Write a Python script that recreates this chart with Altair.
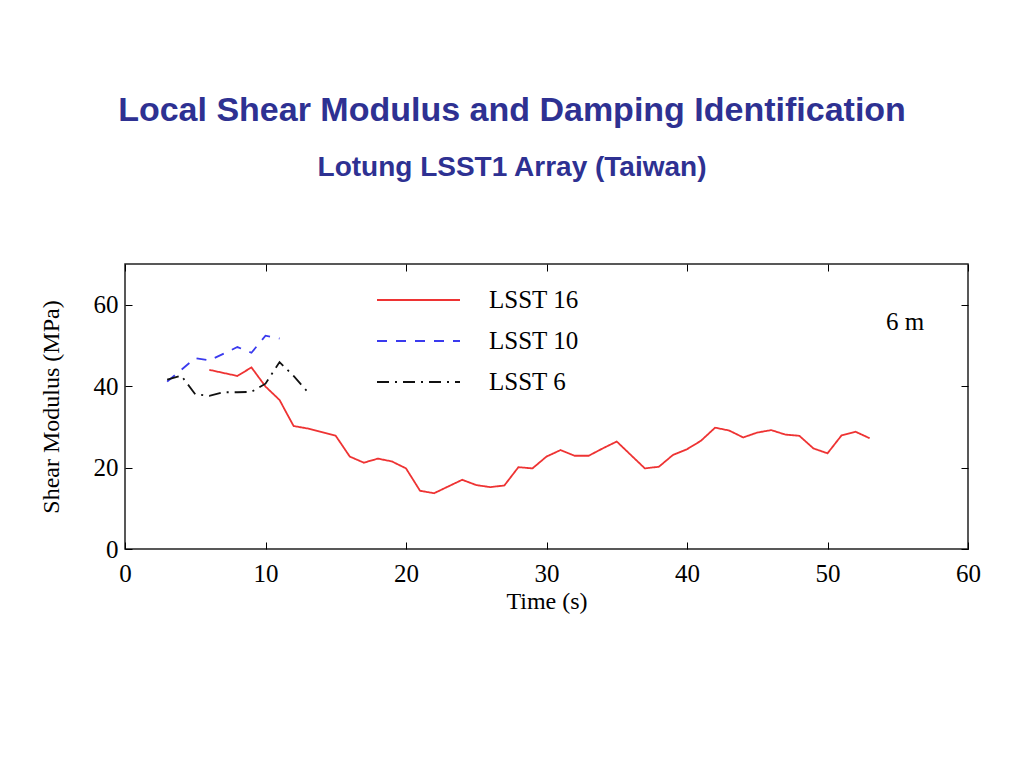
import altair as alt
import pandas as pd

# ---- data ----
t16 = [6, 8, 9, 10, 11, 12, 13, 15, 16, 17, 18, 19, 20, 21, 22, 24, 25, 26, 27, 28, 29, 30,
       31, 32, 33, 34, 35, 37, 38, 39, 40, 41, 42, 43, 44, 45, 46, 47, 48, 49, 50, 51, 52, 53]
g16 = [44.0, 42.5, 44.6, 39.9, 36.6, 30.2, 29.6, 27.8, 22.7, 21.2, 22.2, 21.5, 19.8, 14.3, 13.7,
       17.0, 15.7, 15.2, 15.6, 20.1, 19.8, 22.7, 24.3, 22.9, 22.9, 24.7, 26.4, 19.8, 20.2, 23.1,
       24.5, 26.6, 29.8, 29.1, 27.4, 28.6, 29.2, 28.1, 27.8, 24.7, 23.5, 27.9, 28.8, 27.2]
t10 = [3, 5, 6, 8, 9, 10, 11]
g10 = [41.1, 46.9, 46.3, 49.6, 48.2, 52.4, 51.7]
t6 = [3, 4, 5, 6, 7, 8, 9, 10, 11, 12, 13]
g6 = [41.6, 42.6, 38.0, 37.6, 38.5, 38.5, 38.6, 40.6, 45.9, 42.5, 38.6]

series_names = ["LSST 16", "LSST 10", "LSST 6"]
series_colors = ["#ee3333", "#3a3aee", "#111111"]
series_dash = [[1, 0], [10, 9], [12, 6, 2, 6]]

x_ticks = [0, 10, 20, 30, 40, 50, 60]
y_ticks = [0, 20, 40, 60]

title_text = "Local Shear Modulus and Damping Identification"
subtitle_text = "Lotung LSST1 Array (Taiwan)"
depth_label = "6 m"

rows = []
for name, ts, gs in [(series_names[0], t16, g16), (series_names[1], t10, g10), (series_names[2], t6, g6)]:
    for t, g in zip(ts, gs):
        rows.append({"series": name, "time": t, "G": g})
df = pd.DataFrame(rows)

W, H = 843, 285
serif = "Liberation Serif"
sans = "Liberation Sans"
title_color = "#2e3192"

xs = alt.Scale(domain=[0, 60], nice=False)
ys = alt.Scale(domain=[0, 70], nice=False)

lines = alt.Chart(df).mark_line(strokeWidth=1.8).encode(
    x=alt.X("time:Q", scale=xs, title="Time (s)",
            axis=alt.Axis(values=x_ticks, offset=-7, tickSize=7, domain=False, grid=False,
                          labelPadding=12, labelFont=serif, labelFontSize=25, labelColor="black",
                          titleFont=serif, titleFontSize=24, titleFontWeight="normal",
                          titleColor="black", titlePadding=3, tickColor="black", labelFlush=False)),
    y=alt.Y("G:Q", scale=ys, title="Shear Modulus (MPa)",
            axis=alt.Axis(values=y_ticks, offset=-7, tickSize=7, domain=False, grid=False,
                          labelPadding=7, labelFont=serif, labelFontSize=25, labelColor="black",
                          titleFont=serif, titleFontSize=24, titleFontWeight="normal",
                          titleColor="black", titlePadding=30, tickColor="black", labelFlush=False)),
    color=alt.Color("series:N", scale=alt.Scale(domain=series_names, range=series_colors), legend=None),
    strokeDash=alt.StrokeDash("series:N", scale=alt.Scale(domain=series_names, range=series_dash), legend=None),
    detail="series:N",
)

mirror = alt.Chart(df).mark_point(opacity=0).encode(
    x=alt.X("time:Q", scale=xs,
            axis=alt.Axis(orient="top", values=x_ticks, offset=-7, tickSize=7, domain=False,
                          grid=False, labels=False, title=None, tickColor="black")),
    y=alt.Y("G:Q", scale=ys,
            axis=alt.Axis(orient="right", values=y_ticks, offset=-7, tickSize=7, domain=False,
                          grid=False, labels=False, title=None, tickColor="black")),
)

one = pd.DataFrame({"k": [0]})

def txt(text, x, y, font, size, color, weight="normal", align="left"):
    return alt.Chart(one).mark_text(text=text, font=font, fontSize=size, color=color,
                                    fontWeight=weight, align=align, baseline="middle").encode(
        x=alt.value(x), y=alt.value(y))

annotations = [
    txt(title_text, 387, -153, sans, 34, title_color, "bold", "center"),
    txt(subtitle_text, 387, -96, sans, 28, title_color, "bold", "center"),
    txt(depth_label, 761, 58, serif, 25, "black"),
]
legend_layers = []
for i, name in enumerate(series_names):
    yy = 36 + 41 * i
    legend_layers.append(
        alt.Chart(one).mark_rule(color=series_colors[i], strokeDash=series_dash[i], strokeWidth=1.8).encode(
            x=alt.value(252), x2=alt.value(335), y=alt.value(yy)))
    legend_layers.append(txt(name, 364, yy, serif, 25, "black"))

chart = alt.layer(lines, mirror, *legend_layers, *annotations).resolve_axis(
    x="independent", y="independent"
).properties(
    width=W, height=H,
    autosize=alt.AutoSizeParams(type="none"),
    padding={"left": 117, "top": 256, "right": 48, "bottom": 200},
).configure_view(stroke="#222222", strokeWidth=1.5)

chart.save("out.html", embed_options={"renderer": "svg", "actions": False})
